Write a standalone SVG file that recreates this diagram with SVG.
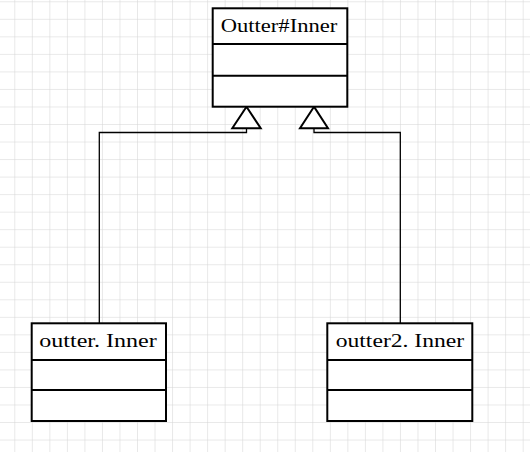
<svg xmlns="http://www.w3.org/2000/svg" width="530" height="452" viewBox="0 0 530 452">
<defs>
<pattern id="grid" x="14.3" y="1.3" width="17.53" height="17.53" patternUnits="userSpaceOnUse">
<path d="M0 0H17.53M0 0V17.53" fill="none" stroke="#d3d3d3" stroke-width="1"/>
</pattern>
</defs>
<style>
.box{fill:#fff;stroke:#000;stroke-width:2}
.div{stroke:#000;stroke-width:2}
.lbl{font-family:"Liberation Serif","Noto Sans CJK SC",serif;font-size:19.5px;fill:#000;text-anchor:middle}
.conn{fill:none;stroke:#000;stroke-width:1.3}
.tri{fill:#fff;stroke:#000;stroke-width:2;stroke-linejoin:miter}
</style>
<rect width="530" height="452" fill="#fff"/>
<rect width="530" height="452" fill="url(#grid)"/>
<g id="connectors">
<path class="conn" d="M246.5 128.3V132.5H99.3V323.3"/>
<path class="conn" d="M314 128.3V132.5H400.3V323.3"/>
<polygon class="tri" points="246.5,106.7 232.3,128.3 260.7,128.3"/>
<polygon class="tri" points="314,106.7 300,128.3 328,128.3"/>
</g>
<g id="outter-inner-parent">
<rect class="box" x="212.7" y="8.3" width="134.6" height="98.4"/>
<line class="div" x1="212.7" y1="44" x2="347.3" y2="44"/>
<line class="div" x1="212.7" y1="75.7" x2="347.3" y2="75.7"/>
<text class="lbl" x="279" y="31.7" textLength="116.6" lengthAdjust="spacingAndGlyphs">Outter#Inner</text>
</g>
<g id="outter-inner">
<rect class="box" x="31.7" y="323.3" width="134.3" height="97.7"/>
<line class="div" x1="31.7" y1="360" x2="166" y2="360"/>
<line class="div" x1="31.7" y1="390" x2="166" y2="390"/>
<text class="lbl" x="98" y="346.7" textLength="117.4" lengthAdjust="spacingAndGlyphs">outter. Inner</text>
</g>
<g id="outter2-inner">
<rect class="box" x="327.3" y="323.3" width="145" height="97.7"/>
<line class="div" x1="327.3" y1="360" x2="472.3" y2="360"/>
<line class="div" x1="327.3" y1="390" x2="472.3" y2="390"/>
<text class="lbl" x="399.9" y="346.7" textLength="128.3" lengthAdjust="spacingAndGlyphs">outter2. Inner</text>
</g>
</svg>
